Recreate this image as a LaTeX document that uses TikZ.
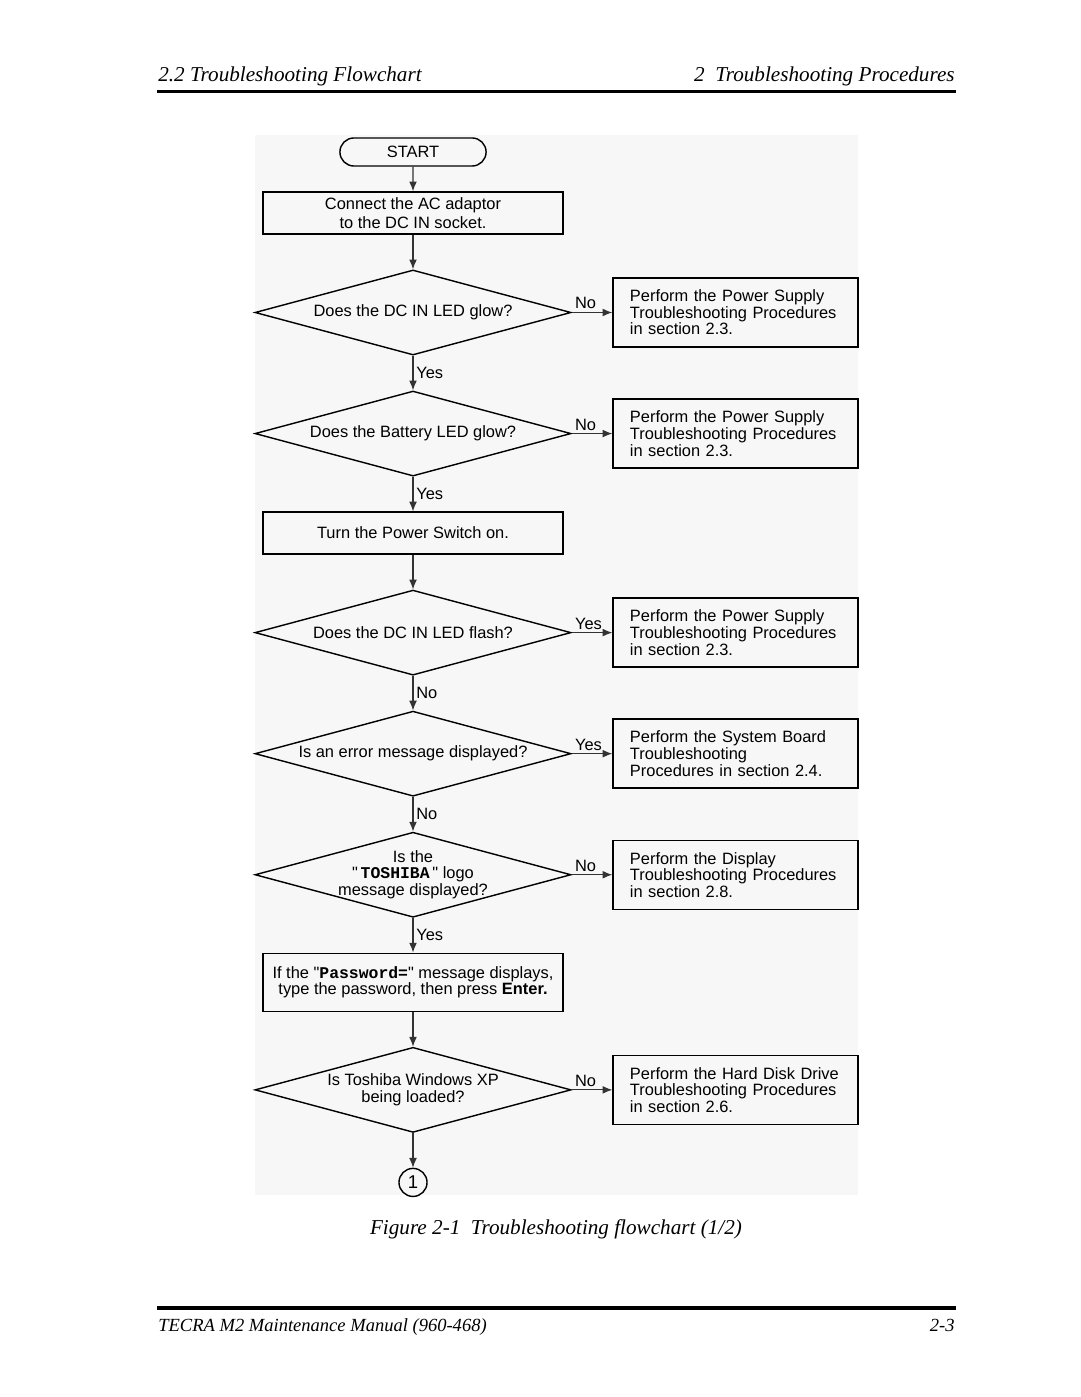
\documentclass[tikz,border=0pt]{standalone}
\usepackage{fontspec}
\setmainfont{Liberation Serif}
\setsansfont{Liberation Sans}
\setmonofont{Liberation Mono}
\usepackage{tikz}
\usetikzlibrary{shapes,arrows.meta,positioning}
\newcommand{\dq}{\XeTeXglyph\XeTeXcharglyph"22\relax}

\begin{document}
\begin{tikzpicture}[
    x=0.56667pt, y=-0.56667pt,
    >={Latex[length=5.5pt,width=4.4pt]},
    every node/.style={font=\sffamily\fontsize{9.3}{9.4}\selectfont},
    process/.style={rectangle, draw, line width=0.8pt, minimum width=170pt, minimum height=23.8pt, align=center, inner sep=2pt},
    decision/.style={diamond, draw, line width=0.8pt, minimum width=179.1pt, minimum height=48.2pt, aspect=3.7, inner sep=0pt, align=center},
    action/.style={rectangle, draw, line width=0.8pt, minimum width=138.8pt, minimum height=39.1pt, text width=119.6pt, inner xsep=9.6pt, align=left},
    terminal/.style={rounded rectangle, draw, line width=0.8pt, minimum width=89.5pt, minimum height=15.9pt},
    connector/.style={circle, draw, line width=0.8pt, minimum size=15.9pt, inner sep=0pt, font=\sffamily\fontsize{10.5}{11}\selectfont},
    flow/.style={->, line width=0.6pt, draw=black!80},
    answer/.style={inner sep=1.6pt},
    page/.style={font=\itshape\fontsize{12}{14}\selectfont, inner sep=0pt},
    node distance=19.6pt and 23pt
]
    % Page
    \path[fill=white, use as bounding box] (0,0) rectangle (1080,1397);
    \fill[black!3] (255,135) rectangle (858,1195);

    % Header
    \node[page, anchor=base west] (hdleft) at (158,82) {2.2 Troubleshooting Flowchart};
    \node[page, anchor=base east] (hdright) at (955,82) {2\ \ Troubleshooting Procedures};
    \draw[line width=2.2pt] (157,91.5) -- (956,91.5);

    % Main column
    \node[terminal] (start) at (413,152) {START};
    \node[process, below=13.9pt of start, font=\sffamily\fontsize{9.3}{10.8}\selectfont] (adaptor) {Connect the AC adaptor\\to the DC IN socket.};
    \node[decision, below=of adaptor] (dcglow) {Does the DC IN LED glow?};
    \node[decision, below=of dcglow] (battglow) {Does the Battery LED glow?};
    \node[process, below=of battglow] (power) {Turn the Power Switch on.};
    \node[decision, below=of power] (dcflash) {Does the DC IN LED flash?};
    \node[decision, below=of dcflash] (errmsg) {Is an error message displayed?};
    \node[decision, below=of errmsg,
        label={[align=center]center:Is the\\\dq\,\texttt{\bfseries TOSHIBA}\,\dq\ logo\\message displayed?}] (logo) {};
    \node[process, below=of logo, minimum height=32.9pt] (password) {If the \dq\texttt{\bfseries Password=}\dq\ message displays,\\type the password, then press \textbf{Enter.}};
    \node[decision, below=of password] (winxp) {Is Toshiba Windows XP\\being loaded?};
    \node[connector, below=of winxp] (cont) {1};

    % Side actions
    \node[action, right=of dcglow] (psuone) {Perform the Power Supply\\Troubleshooting Procedures\\in section 2.3.};
    \node[action, right=of battglow] (psutwo) {Perform the Power Supply\\Troubleshooting Procedures\\in section 2.3.};
    \node[action, right=of dcflash] (psuthree) {Perform the Power Supply\\Troubleshooting Procedures\\in section 2.3.};
    \node[action, right=of errmsg] (board) {Perform the System Board\\Troubleshooting\\Procedures in section 2.4.};
    \node[action, right=of logo] (display) {Perform the Display\\Troubleshooting Procedures\\in section 2.8.};
    \node[action, right=of winxp] (hdd) {Perform the Hard Disk Drive\\Troubleshooting Procedures\\in section 2.6.};

    % Flow
    \draw[flow] (start) -- (adaptor);
    \draw[flow] (adaptor) -- (dcglow);
    \draw[flow] (dcglow) -- node[answer, right]{Yes} (battglow);
    \draw[flow] (battglow) -- node[answer, right]{Yes} (power);
    \draw[flow] (power) -- (dcflash);
    \draw[flow] (dcflash) -- node[answer, right]{No} (errmsg);
    \draw[flow] (errmsg) -- node[answer, right]{No} (logo);
    \draw[flow] (logo) -- node[answer, right]{Yes} (password);
    \draw[flow] (password) -- (winxp);
    \draw[flow] (winxp) -- (cont);

    \draw[flow] (dcglow) -- node[answer, pos=0, anchor=south west]{No} (psuone);
    \draw[flow] (battglow) -- node[answer, pos=0, anchor=south west]{No} (psutwo);
    \draw[flow] (dcflash) -- node[answer, pos=0, anchor=south west]{Yes} (psuthree);
    \draw[flow] (errmsg) -- node[answer, pos=0, anchor=south west]{Yes} (board);
    \draw[flow] (logo) -- node[answer, pos=0, anchor=south west]{No} (display);
    \draw[flow] (winxp) -- node[answer, pos=0, anchor=south west]{No} (hdd);

    % Caption and footer
    \node[page, anchor=base] (caption) at (556,1234) {Figure 2-1\ \ Troubleshooting flowchart (1/2)};
    \draw[line width=1.8pt] (157,1308) -- (956,1308);
    \node[page, font=\itshape\fontsize{10.5}{12}\selectfont, anchor=base west] (ftleft) at (158,1331) {TECRA M2 Maintenance Manual (960-468)};
    \node[page, font=\itshape\fontsize{10.5}{12}\selectfont, anchor=base east] (ftright) at (955,1331) {2-3};
\end{tikzpicture}
\end{document}
